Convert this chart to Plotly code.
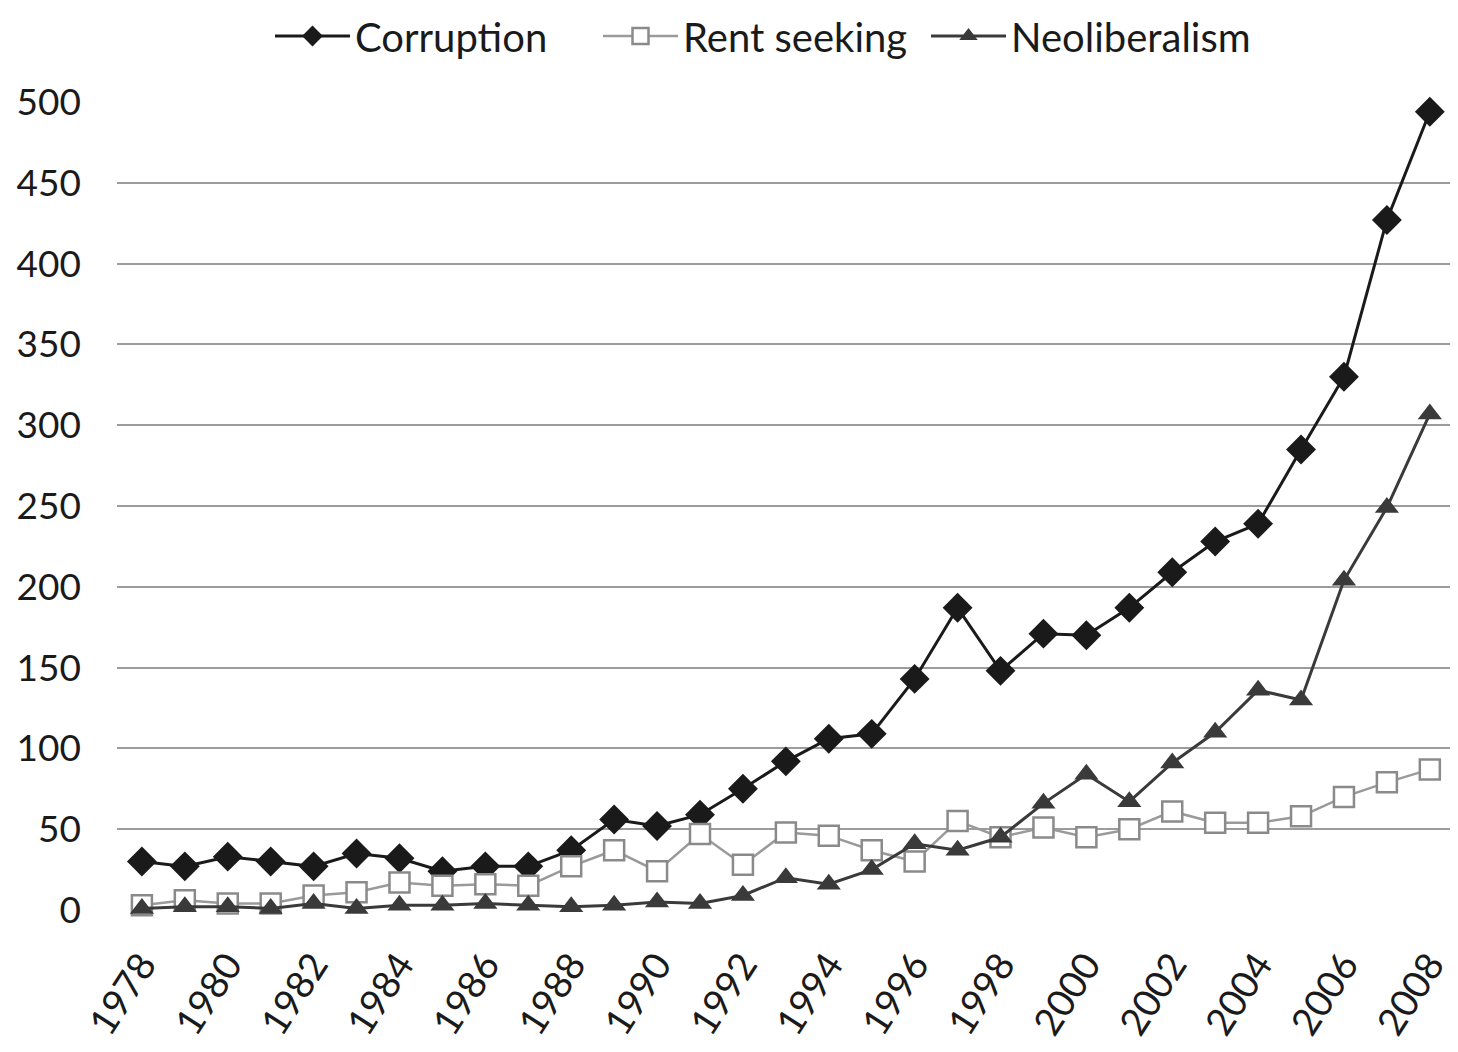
import plotly.graph_objects as go

years = list(range(1978, 2009))
corruption = [30, 27, 33, 30, 27, 35, 32, 24, 27, 27, 37, 56, 52, 59, 75, 92, 106, 109,
              143, 187, 148, 171, 170, 187, 209, 228, 239, 285, 330, 427, 494]
rent_seeking = [3, 6, 4, 4, 9, 11, 17, 15, 16, 15, 27, 37, 24, 47, 28, 48, 46, 37,
                30, 55, 45, 51, 45, 50, 61, 54, 54, 58, 70, 79, 87]
neoliberalism = [1, 2, 2, 1, 4, 1, 3, 3, 4, 3, 2, 3, 5, 4, 9, 20, 16, 25,
                 41, 37, 45, 66, 84, 67, 91, 110, 136, 130, 204, 249, 307]
x_ticks = list(range(1978, 2009, 2))
y_ticks = list(range(0, 501, 50))

FONT = "Lato, 'Open Sans', sans-serif"

fig = go.Figure()
fig.add_trace(go.Scatter(
    x=years, y=corruption, name="Corruption", mode="lines+markers",
    line=dict(color="#1a1a1a", width=3),
    marker=dict(symbol="diamond", size=23, color="#1a1a1a", line=dict(width=0)),
    cliponaxis=False))
fig.add_trace(go.Scatter(
    x=years, y=rent_seeking, name="Rent seeking", mode="lines+markers",
    line=dict(color="#9a9a9a", width=2.5),
    marker=dict(symbol="square", size=20, color="white", line=dict(color="#8a8a8a", width=2.5)),
    cliponaxis=False))
fig.add_trace(go.Scatter(
    x=years, y=neoliberalism, name="Neoliberalism", mode="lines+markers",
    line=dict(color="#3a3a3a", width=3),
    marker=dict(symbol="triangle-up", size=21, color="#3a3a3a", line=dict(width=0)),
    cliponaxis=False))

fig.update_layout(
    width=1450, height=1044,
    paper_bgcolor="white", plot_bgcolor="white",
    margin=dict(l=109, r=8, t=94, b=142, autoexpand=False),
    font=dict(family=FONT, color="#1a1a1a", size=36),
    showlegend=True,
    legend=dict(orientation="h", x=262 / 1450, xanchor="left", xref="container",
                y=1 - 28 / 1044, yanchor="middle", yref="container",
                font=dict(size=40, family=FONT, color="#1a1a1a"),
                entrywidth=238, entrywidthmode="pixels",
                itemwidth=75, tracegroupgap=0, traceorder="normal"),
    xaxis=dict(range=[1977.42, 2008.47], tickmode="array", tickvals=x_ticks,
               ticktext=[str(v) for v in x_ticks], tickangle=-57,
               showgrid=False, zeroline=False, showline=False, ticks="",
               automargin=False, ticklabelstandoff=24,
               tickfont=dict(size=38, family=FONT, color="#1a1a1a")),
    yaxis=dict(range=[0, 500], tickmode="array", tickvals=y_ticks,
               showgrid=True, gridcolor="#9c9c9c", gridwidth=2,
               zeroline=False, showline=False, ticks="",
               automargin=False, ticklabelstandoff=35,
               tickfont=dict(size=37, family=FONT, color="#1a1a1a")),
)

fig.write_html("out.html")
